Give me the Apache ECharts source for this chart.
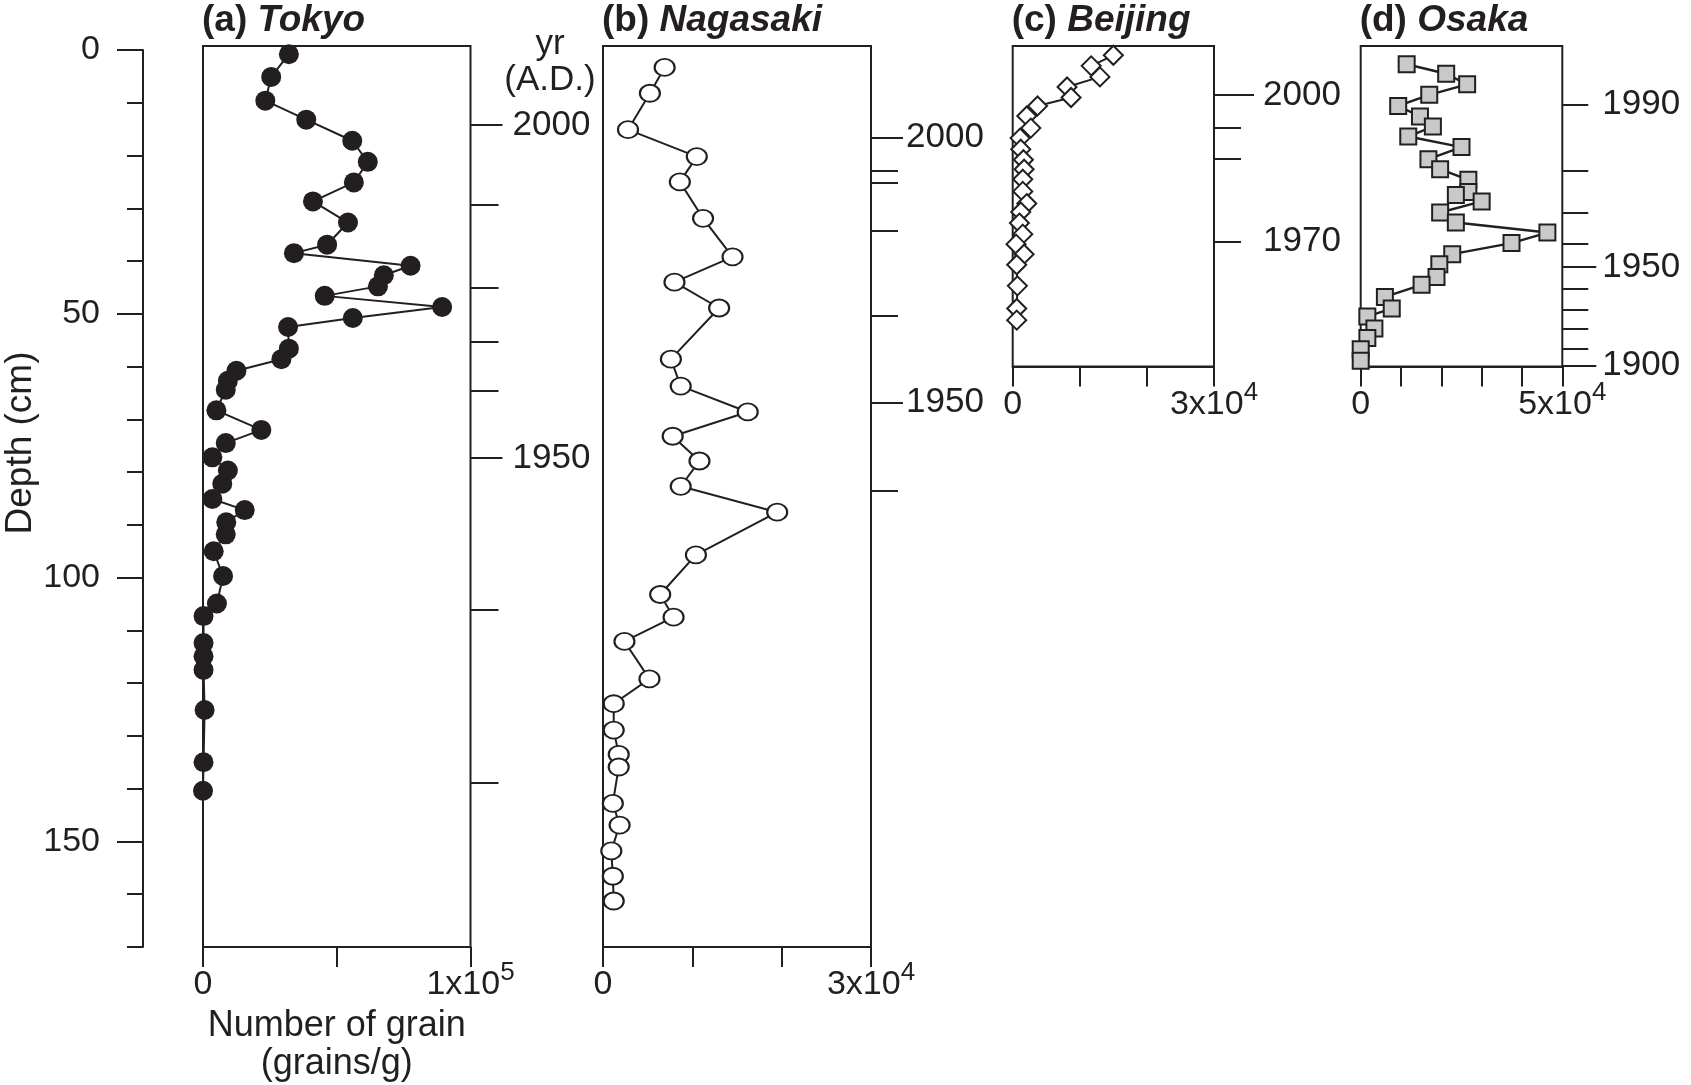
<!DOCTYPE html>
<html lang="en">
<head>
<meta charset="utf-8">
<title>Grain counts in sediment cores: Tokyo, Nagasaki, Beijing, Osaka</title>
<script src="https://cdn.jsdelivr.net/npm/echarts@6.0.0/dist/echarts.min.js"></script>
<style>
  html, body { margin: 0; padding: 0; background: #ffffff; }
  #chart { width: 1691px; height: 1085px; }
</style>
</head>
<body>
<div id="chart"></div>
<script>
// ---------- core profiles: depth (cm) and grain concentration (grains/g) ----------
const tokyoDepth  = [0.8, 5.1, 9.6, 13.2, 17.2, 21.2, 25.1, 28.7, 32.7, 36.9, 38.5, 40.9, 42.7, 44.8, 46.6,
                     48.7, 50.8, 52.5, 56.6, 58.6, 60.8, 62.7, 64.4, 68.3, 72.0, 74.5, 77.2, 79.7, 82.2, 85.1,
                     87.2, 89.5, 91.8, 95.0, 99.7, 104.9, 107.3, 112.4, 114.9, 117.5, 125.1, 135.0, 140.4];
const tokyoGrains = [32100, 25500, 23300, 38600, 55800, 61600, 56400, 41100, 54200, 46400, 34000, 77600, 67600, 65400, 45500,
                     89400, 56000, 31800, 32100, 29300, 12500, 9300, 8500, 5000, 21800, 8500, 3500, 9300, 7200, 3500,
                     15600, 8700, 8500, 4000, 7500, 5200, 200, 200, 200, 200, 600, 200, 0];

const nagasakiDepth  = [3.3, 8.2, 15.1, 20.2, 25.0, 31.9, 39.2, 44.0, 48.9, 58.6, 63.7, 68.6, 73.2, 77.9, 82.7,
                        87.6, 95.7, 103.2, 107.5, 112.1, 119.2, 123.9, 128.9, 133.5, 135.9, 142.8, 146.9, 151.8, 156.6, 161.3];
const nagasakiGrains = [6900, 5250, 2800, 10500, 8600, 11200, 14500, 8000, 13000, 7600, 8700, 16200, 7800, 10800, 8700,
                        19500, 10400, 6400, 7900, 2400, 5200, 1200, 1200, 1760, 1760, 1100, 1860, 930, 1100, 1200];

const beijingDepth  = [1.0, 3.0, 5.1, 7.0, 9.0, 10.6, 12.5, 14.8, 16.7, 18.8, 20.8, 22.6, 24.5, 26.8, 29.1,
                       30.7, 32.8, 34.9, 36.8, 38.7, 40.7, 44.7, 49.0, 51.2];
const beijingGrains = [15000, 11700, 13000, 8100, 8700, 3700, 2100, 2700, 1100, 1200, 1600, 1700, 1500, 1500, 2100,
                       1200, 1000, 1500, 500, 1700, 600, 700, 600, 600];

const osakaDepth  = [2.7, 4.5, 6.5, 8.5, 10.6, 12.6, 14.5, 16.4, 18.4, 20.7, 22.6, 24.6, 26.9, 27.5, 28.7,
                     30.8, 32.7, 34.6, 36.6, 38.7, 40.6, 43.0, 44.5, 46.8, 49.0, 50.5, 52.8, 54.6, 56.7, 58.9];
const osakaGrains = [11400, 21200, 26400, 17000, 9300, 14700, 17900, 11800, 25000, 16800, 19700, 26700, 26700, 23600, 30000,
                     19700, 23600, 46300, 37400, 22700, 19500, 18800, 15100, 6000, 7700, 1650, 3400, 1650, 0, 0];

// ---------- age scales: year (A.D.) reached at a given depth (cm) ----------
const tokyoYears        = [2000, 1990, 1980, 1970, 1960, 1950, 1940, 1930];
const tokyoYearDepth    = [14.2, 29.3, 45.1, 55.3, 64.5, 77.3, 106.0, 138.9];
const tokyoYearLabels   = [2000, 1950];

const nagasakiYears      = [2000, 1990, 1980, 1970, 1960, 1950, 1940];
const nagasakiYearDepth  = [16.6, 22.9, 25.2, 34.2, 50.4, 66.8, 83.6];
const nagasakiYearLabels = [2000, 1950];

const beijingYears      = [2000, 1990, 1980, 1970];
const beijingYearDepth  = [8.5, 14.7, 20.7, 36.3];
const beijingYearLabels = [2000, 1970];

const osakaYears      = [1990, 1980, 1970, 1960, 1950, 1940, 1930, 1920, 1910, 1900];
const osakaYearDepth  = [10.3, 22.9, 30.8, 36.8, 41.1, 45.3, 49.3, 52.9, 56.6, 59.8];
const osakaYearLabels = [1990, 1950, 1900];

// ---------- axis ticks ----------
const depthTicks  = [0, 10, 20, 30, 40, 50, 60, 70, 80, 90, 100, 110, 120, 130, 140, 150, 160, 170];
const depthLabels = [0, 50, 100, 150];
const tokyoGrainTicks    = [0, 50000, 100000];
const nagasakiGrainTicks = [0, 10000, 20000, 30000];
const beijingGrainTicks  = [0, 10000, 20000, 30000];
const osakaGrainTicks    = [0, 10000, 20000, 30000, 40000, 50000];

// ---------- layout & style ----------
const FONT = '"Liberation Sans", Arial, Helvetica, sans-serif';
const INK = '#231f20';
const FRAME_TOP = 46;       // px, top edge of every panel frame
const DEPTH_AT_TOP = -0.76; // cm, depth at the upper frame edge
const CM = 5.276;           // px per cm of depth

const tickRich = {
  b: { fontFamily: FONT, fontSize: 34, lineHeight: 50, color: INK },
  s: { fontFamily: FONT, fontSize: 26, lineHeight: 28, verticalAlign: 'top', color: INK }
};

function sciLabel(v) {
  if (v === 0) return '{b|0}';
  const e = Math.floor(Math.log10(v) + 1e-9);
  const m = Math.round(v / Math.pow(10, e));
  return '{b|' + m + 'x10}{s|' + e + '}';
}

const panels = [
  { tag: '(a) ', name: 'Tokyo', left: 203, width: 267.5, depthMax: 170,
    depth: tokyoDepth, grains: tokyoGrains, ticks: tokyoGrainTicks,
    years: tokyoYears, yearDepth: tokyoYearDepth, yearLabels: tokyoYearLabels, longTicks: [2000, 1950],
    tickLen: 28, longLen: 32, labelMargin: 42,
    symbol: 'circle', symbolSize: 20, item: { color: INK }, lineWidth: 2 },
  { tag: '(b) ', name: 'Nagasaki', left: 603, width: 268, depthMax: 170,
    depth: nagasakiDepth, grains: nagasakiGrains, ticks: nagasakiGrainTicks,
    years: nagasakiYears, yearDepth: nagasakiYearDepth, yearLabels: nagasakiYearLabels, longTicks: [2000, 1950],
    tickLen: 27, longLen: 32, labelMargin: 35,
    symbol: 'circle', symbolSize: [20, 17], item: { color: '#ffffff', borderColor: INK, borderWidth: 2 }, lineWidth: 2 },
  { tag: '(c) ', name: 'Beijing', left: 1012.7, width: 201.3, depthMax: 60,
    depth: beijingDepth, grains: beijingGrains, ticks: beijingGrainTicks,
    years: beijingYears, yearDepth: beijingYearDepth, yearLabels: beijingYearLabels, longTicks: [2000],
    tickLen: 27, longLen: 40, labelMargin: 49,
    symbol: 'diamond', symbolSize: 19, item: { color: '#ffffff', borderColor: INK, borderWidth: 2 }, lineWidth: 2 },
  { tag: '(d) ', name: 'Osaka', left: 1360.7, width: 201.6, depthMax: 60,
    depth: osakaDepth, grains: osakaGrains, ticks: osakaGrainTicks,
    years: osakaYears, yearDepth: osakaYearDepth, yearLabels: osakaYearLabels, longTicks: [1950, 1900],
    tickLen: 26, longLen: 34, labelMargin: 40,
    symbol: 'rect', symbolSize: 16, item: { color: '#c9c9c9', borderColor: INK, borderWidth: 2 }, lineWidth: 2.4 }
];

const grid = [];
const xAxis = [];
const yAxis = [];
const series = [];
const noSplit = { show: false };

// depth scale on the far left (grid 0)
grid.push({ left: 143, top: FRAME_TOP + (0 - DEPTH_AT_TOP) * CM, width: 1, height: 170 * CM,
            show: false, outerBoundsMode: 'none' });
xAxis.push({ type: 'value', gridIndex: 0, show: false, min: 0, max: 1 });
yAxis.push({
  type: 'value', gridIndex: 0, position: 'left', inverse: true, min: 0, max: 170,
  axisLine: { show: true, onZero: false, lineStyle: { color: INK, width: 2 } },
  axisTick: { show: true, customValues: depthTicks, length: 16, lineStyle: { color: INK, width: 2 } },
  axisLabel: { show: true, customValues: depthLabels, margin: 43, fontSize: 34, fontFamily: FONT, color: INK },
  splitLine: noSplit
});
yAxis.push({
  type: 'value', gridIndex: 0, position: 'left', inverse: true, min: 0, max: 170,
  axisLine: { show: false, onZero: false },
  axisTick: { show: true, customValues: depthLabels, length: 26, lineStyle: { color: INK, width: 2 } },
  axisLabel: { show: false },
  splitLine: noSplit
});

panels.forEach((p, i) => {
  const g = i + 1;
  const height = (p.depthMax - DEPTH_AT_TOP) * CM;
  grid.push({ left: p.left, top: FRAME_TOP, width: p.width, height: height,
              show: true, borderColor: INK, borderWidth: 2, backgroundColor: 'transparent',
              outerBoundsMode: 'none' });

  const gMax = p.ticks[p.ticks.length - 1];
  const xa = {
    type: 'value', gridIndex: g, position: 'bottom', min: 0, max: gMax,
    axisLine: { show: true, onZero: false, lineStyle: { color: INK, width: 2 } },
    axisTick: { show: true, customValues: p.ticks, length: 20, lineStyle: { color: INK, width: 2 } },
    axisLabel: { show: true, customValues: [0, gMax], margin: 13, formatter: sciLabel, rich: tickRich },
    splitLine: noSplit
  };
  if (i === 0) {
    xa.name = 'Number of grain\n(grains/g)';
    xa.nameLocation = 'middle';
    xa.nameGap = 59;
    xa.nameTextStyle = { fontFamily: FONT, fontSize: 36, lineHeight: 38, color: INK };
  }
  xAxis.push(xa);

  const yearOf = v => {
    const k = p.yearDepth.findIndex(d => Math.abs(d - v) < 1e-6);
    return k < 0 ? '' : String(p.years[k]);
  };
  const labelDepths = p.yearDepth.filter((d, k) => p.yearLabels.includes(p.years[k]));
  const longDepths = p.yearDepth.filter((d, k) => p.longTicks.includes(p.years[k]));

  const dataAxis = yAxis.length;
  yAxis.push({
    type: 'value', gridIndex: g, position: 'right', inverse: true, min: DEPTH_AT_TOP, max: p.depthMax,
    axisLine: { show: false, onZero: false },
    axisTick: { show: true, customValues: p.yearDepth, length: p.tickLen, lineStyle: { color: INK, width: 2 } },
    axisLabel: { show: true, customValues: labelDepths, margin: p.labelMargin, formatter: yearOf,
                 fontSize: 35, fontFamily: FONT, color: INK },
    splitLine: noSplit
  });
  yAxis.push({
    type: 'value', gridIndex: g, position: 'right', inverse: true, min: DEPTH_AT_TOP, max: p.depthMax,
    axisLine: { show: false, onZero: false },
    axisTick: { show: true, customValues: longDepths, length: p.longLen, lineStyle: { color: INK, width: 2 } },
    axisLabel: { show: false },
    splitLine: noSplit
  });

  series.push({
    name: p.name, type: 'line', xAxisIndex: g, yAxisIndex: dataAxis,
    data: p.grains.map((v, k) => [v, p.depth[k]]),
    symbol: p.symbol, symbolSize: p.symbolSize, showSymbol: true,
    itemStyle: p.item, lineStyle: { color: INK, width: p.lineWidth },
    clip: false, z: 3, silent: true
  });
});

// panel titles, year caption and depth caption
const graphic = panels.map(p => ({
  type: 'text', x: p.left - 1, y: 21,
  style: {
    text: '{n|' + p.tag + '}{i|' + p.name + '}',
    align: 'left', verticalAlign: 'middle',
    rich: {
      n: { fontFamily: FONT, fontSize: 37, fontWeight: 'bold', fill: INK },
      i: { fontFamily: FONT, fontSize: 37, fontWeight: 'bold', fontStyle: 'italic', fill: INK }
    }
  }
}));
graphic.push({
  type: 'text', x: 550, y: 62,
  style: { text: 'yr\n(A.D.)', fontFamily: FONT, fontSize: 35, lineHeight: 36,
           align: 'center', verticalAlign: 'middle', fill: INK }
});
graphic.push({
  type: 'text', x: 21, y: 443, rotation: Math.PI / 2,
  style: { text: 'Depth (cm)', fontFamily: FONT, fontSize: 37,
           align: 'center', verticalAlign: 'middle', fill: INK }
});

const chart = echarts.init(document.getElementById('chart'), null, { renderer: 'canvas' });
chart.setOption({
  backgroundColor: '#ffffff',
  animation: false,
  grid, xAxis, yAxis, series, graphic
});
</script>
</body>
</html>
